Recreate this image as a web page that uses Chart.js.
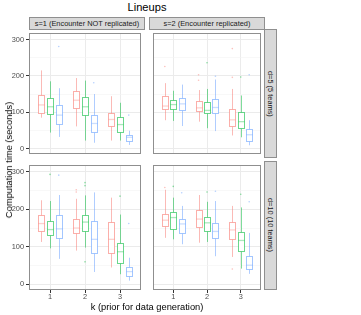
<!DOCTYPE html>
<html><head><meta charset="utf-8">
<script src="https://cdn.jsdelivr.net/npm/chart.js@4.4.0/dist/chart.umd.min.js"></script>
<style>
body{margin:0;width:361px;height:315px;background:#fff;position:relative;overflow:hidden;font-family:"Liberation Sans",Arial,sans-serif;}
.abs{position:absolute;white-space:nowrap;}
canvas{position:absolute;}
.strip{position:absolute;background:#D9D9D9;border:1px solid #8f8f8f;box-sizing:border-box;color:#1A1A1A;font-size:7.4px;display:flex;align-items:center;justify-content:center;white-space:nowrap;overflow:hidden;}
.vstrip{writing-mode:vertical-rl;}
</style></head><body>
<div class="abs" id="title" style="left:0;width:294px;top:1px;text-align:center;font-size:11.1px;line-height:13px;color:#000;">Lineups</div>
<div class="strip" id="colT0" style="left:29px;top:17px;width:116px;height:13px;"></div>
<div class="strip" id="colT1" style="left:149px;top:17px;width:116px;height:13px;"></div>
<div class="strip vstrip" id="rowT0" style="left:264px;top:29px;width:13px;height:129px;"></div>
<div class="strip vstrip" id="rowT1" style="left:264px;top:161px;width:13px;height:129px;"></div>
<canvas id="c00" width="145" height="129" style="left:0;top:29px;width:145px;height:129px;"></canvas>
<canvas id="c01" width="116" height="129" style="left:149px;top:29px;width:116px;height:129px;"></canvas>
<canvas id="c10" width="145" height="141" style="left:0;top:161px;width:145px;height:141px;"></canvas>
<canvas id="c11" width="116" height="141" style="left:149px;top:161px;width:116px;height:141px;"></canvas>
<div class="abs" id="xtitle" style="left:0;width:294px;top:301px;text-align:center;font-size:9.3px;line-height:12px;color:#000;"></div>
<div class="abs" id="ytitle" style="left:9px;top:160px;transform:translate(-50%,-50%) rotate(-90deg);font-size:9.3px;line-height:12px;color:#000;"></div>
<script>
// ---------- data ----------
const chartTitle = 'Lineups';
const xTitle = 'k (prior for data generation)';
const yTitle = 'Computation time (seconds)';
const colTitles = ['s=1 (Encounter NOT replicated)', 's=2 (Encounter replicated)'];
const rowTitles = ['d=5 (5 teams)', 'd=10 (10 teams)'];
const categories = ['1', '2', '3'];
const seriesNames = ['group 1', 'group 2', 'group 3'];
const yTicks = [0, 100, 200, 300];
const yMinorTicks = [50, 150, 250];

// box stats per k: [series1, series2, series3], each [low whisker, q1, median, q3, high whisker]
const s1d5 = [
  [[85, 97, 120, 148, 215], [44, 95, 115, 140, 185], [32, 68, 92, 120, 166]],
  [[61, 112, 133, 159, 194], [22, 92, 115, 141, 187], [16, 45, 69, 93, 150]],
  [[22, 63, 80, 99, 144], [22, 46, 66, 86, 126], [10, 22, 31, 38, 49]]
];
const s1d5Out = [[[], [], [281]], [[], [], [181]], [[], [], [92]]];

const s2d5 = [
  [[78, 108, 117, 144, 180], [76, 108, 121, 133, 159], [62, 106, 123, 139, 176]],
  [[74, 102, 112, 132, 161], [56, 97, 105, 129, 164], [48, 97, 113, 135, 190]],
  [[36, 63, 79, 110, 164], [31, 56, 74, 101, 146], [9, 22, 38, 54, 78]]
];
const s2d5Out = [[[226], [], []], [[188, 203], [236], [199]], [[196, 275], [197], [203]]];

const s1d10 = [
  [[113, 141, 162, 184, 224], [96, 131, 146, 168, 222], [68, 124, 148, 186, 238]],
  [[90, 136, 150, 174, 228], [98, 141, 166, 184, 237], [33, 84, 120, 168, 245]],
  [[45, 84, 120, 167, 231], [27, 57, 87, 109, 186], [10, 23, 34, 45, 71]]
];
const s1d10Out = [[[], [293], [291]], [[246, 252], [60, 263, 271], []], [[], [235], [162]]];

const s2d10 = [
  [[124, 156, 171, 188, 252], [120, 148, 178, 192, 231], [107, 136, 161, 175, 209]],
  [[111, 152, 174, 197, 238], [113, 141, 164, 179, 220], [75, 123, 141, 164, 222]],
  [[73, 121, 145, 166, 209], [42, 90, 117, 140, 205], [28, 40, 51, 76, 137]]
];
const s2d10Out = [[[258], [261], [244]], [[], [246], [248]], [[41], [240], [220]]];

// ---------- style ----------
const seriesRGB = [[248, 118, 109], [0, 186, 56], [97, 156, 255]];
const dodge = [-0.25, 0, 0.25];
const boxWidth = 0.225;
const rgba = (c, a) => `rgba(${c[0]},${c[1]},${c[2]},${a})`;
const FONT = '"Liberation Sans", Arial, sans-serif';

document.getElementById('title').textContent = chartTitle;
document.getElementById('xtitle').textContent = xTitle;
document.getElementById('ytitle').textContent = yTitle;
colTitles.forEach((t, i) => document.getElementById('colT' + i).textContent = t);
rowTitles.forEach((t, i) => document.getElementById('rowT' + i).textContent = t);

const boxPlugin = {
  id: 'boxes',
  beforeDatasetsDraw(chart) {
    const {ctx, chartArea: a} = chart;
    const x = chart.scales.x, y = chart.scales.y;
    const stats = chart.options.plugins.boxes.stats;
    ctx.save();
    ctx.beginPath(); ctx.rect(a.left, a.top, a.width, a.height); ctx.clip();
    stats.forEach((kArr, ki) => kArr.forEach((s, gi) => {
      const cx = Math.round(x.getPixelForValue(ki + 1 + dodge[gi])) + 0.5;
      const hw = (x.getPixelForValue(1 + boxWidth) - x.getPixelForValue(1)) / 2;
      const [lo, q1, med, q3, hi] = s;
      const pLo = y.getPixelForValue(lo), pQ1 = Math.round(y.getPixelForValue(q1)) + 0.5;
      const pMed = y.getPixelForValue(med), pQ3 = Math.round(y.getPixelForValue(q3)) + 0.5;
      const pHi = y.getPixelForValue(hi);
      const l = Math.round(cx - hw) + 0.5, r = Math.round(cx + hw) - 0.5;
      const col = seriesRGB[gi];
      ctx.strokeStyle = rgba(col, 0.5);
      ctx.lineWidth = 1;
      ctx.beginPath();
      ctx.moveTo(cx, pQ3); ctx.lineTo(cx, pHi);
      ctx.moveTo(cx, pQ1); ctx.lineTo(cx, pLo);
      ctx.stroke();
      ctx.fillStyle = '#fff';
      ctx.fillRect(l, pQ3, r - l, pQ1 - pQ3);
      ctx.strokeStyle = rgba(col, 0.58);
      ctx.strokeRect(l, pQ3, r - l, pQ1 - pQ3);
      ctx.strokeStyle = rgba(col, 0.33);
      ctx.lineWidth = 1.3;
      ctx.beginPath(); ctx.moveTo(l, pMed); ctx.lineTo(r, pMed); ctx.stroke();
    }));
    ctx.restore();
  },
  afterDraw(chart) {
    const {ctx, chartArea: a} = chart;
    ctx.save();
    ctx.strokeStyle = '#8f8f8f';
    ctx.lineWidth = 1;
    ctx.strokeRect(a.left + 0.5, a.top + 0.5, a.width - 1, a.height - 1);
    ctx.restore();
  }
};

function makeChart(id, stats, outs, showY, showX) {
  const datasets = seriesNames.map((name, gi) => ({
    label: name,
    data: outs.flatMap((kArr, ki) => kArr[gi].map(v => ({x: ki + 1 + dodge[gi], y: v}))),
    pointRadius: 0.8,
    pointBorderWidth: 0,
    pointBackgroundColor: rgba(seriesRGB[gi], 0.45),
    showLine: false
  }));
  const allY = yTicks.concat(yMinorTicks).sort((a, b) => a - b);
  return new Chart(document.getElementById(id), {
    type: 'scatter',
    data: {datasets},
    plugins: [boxPlugin],
    options: {
      responsive: false, animation: false, devicePixelRatio: 1,
      layout: {padding: 0},
      events: [],
      plugins: {legend: {display: false}, tooltip: {enabled: false}, boxes: {stats}},
      scales: {
        x: {
          type: 'linear', min: 0.4, max: 3.6,
          afterBuildTicks: s => { s.ticks = categories.map((c, i) => ({value: i + 1})); },
          afterFit: s => { s.height = showX ? 12 : 0; s.paddingLeft = 0; s.paddingRight = 0; s.paddingTop = 0; s.paddingBottom = 0; },
          border: {display: false},
          grid: {color: '#EBEBEB', lineWidth: 1, drawTicks: showX, tickLength: 3, tickColor: '#333'},
          ticks: {display: showX, padding: 0, color: '#4D4D4D', font: {family: FONT, size: 7.4},
                  maxRotation: 0, autoSkip: false, callback: (v, i) => categories[i]}
        },
        y: {
          type: 'linear', min: -15, max: 318,
          afterBuildTicks: s => { s.ticks = allY.map(v => ({value: v})); },
          afterFit: s => { s.width = showY ? 29 : 0; s.paddingLeft = 0; s.paddingRight = 0; s.paddingTop = 0; s.paddingBottom = 0; },
          border: {display: false},
          grid: {
            color: c => yTicks.includes(c.tick.value) ? '#EBEBEB' : '#F3F3F3',
            lineWidth: c => yTicks.includes(c.tick.value) ? 1 : 0.6,
            drawTicks: showY, tickLength: 3,
            tickColor: c => yTicks.includes(c.tick.value) ? '#333' : 'rgba(0,0,0,0)'
          },
          ticks: {display: showY, padding: 2, color: '#4D4D4D', font: {family: FONT, size: 7.4},
                  autoSkip: false, callback: v => yTicks.includes(v) ? String(v) : ''}
        }
      }
    }
  });
}

makeChart('c00', s1d5, s1d5Out, true, false);
makeChart('c01', s2d5, s2d5Out, false, false);
makeChart('c10', s1d10, s1d10Out, true, true);
makeChart('c11', s2d10, s2d10Out, false, true);
</script>
</body></html>
